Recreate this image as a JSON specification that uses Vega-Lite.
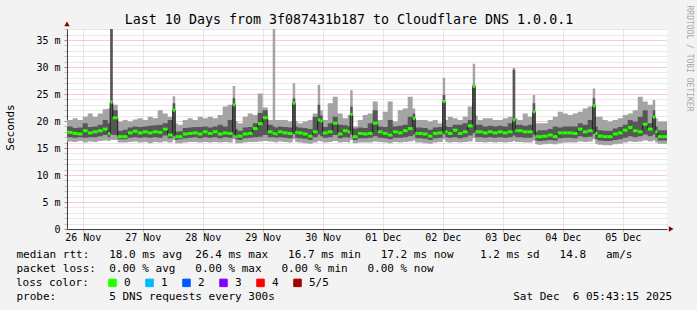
{
  "$schema": "https://vega.github.io/schema/vega-lite/v6.json",
  "width": 600,
  "height": 200,
  "autosize": "none",
  "padding": {"left": 67, "top": 29, "right": 30, "bottom": 81},
  "background": "#f3f3f3",
  "config": {"view": {"fill": "#ffffff", "stroke": null}, "font": "DejaVu Sans Mono"},
  "title": {"text": "Last 10 Days from 3f087431b187 to Cloudflare DNS 1.0.0.1", "font": "DejaVu Sans Mono", "fontSize": 13.3, "fontWeight": "normal", "color": "#000000", "anchor": "middle", "frame": "group", "dx": -18, "dy": 37, "offset": 5, "baseline": "alphabetic"},
  "data": {"values": [
    {"t":4,"t2":6,"lo":16.2,"q1":17.0,"m":17.9,"q3":19.0,"hi":20.2},
    {"t":6,"t2":8,"lo":16.2,"q1":17.0,"m":17.9,"q3":19.0,"hi":20.2},
    {"t":8,"t2":10,"lo":16.1,"q1":16.9,"m":17.7,"q3":18.7,"hi":20.5},
    {"t":10,"t2":12,"lo":16.3,"q1":17.0,"m":17.6,"q3":18.8,"hi":20.2},
    {"t":12,"t2":14,"lo":16.0,"q1":16.9,"m":18.2,"q3":19.6,"hi":20.8},
    {"t":14,"t2":16,"lo":16.2,"q1":17.0,"m":17.8,"q3":18.9,"hi":21.4},
    {"t":16,"t2":18,"lo":16.1,"q1":17.0,"m":18.0,"q3":19.0,"hi":20.8},
    {"t":18,"t2":20,"lo":16.3,"q1":17.2,"m":18.2,"q3":19.3,"hi":21.4},
    {"t":20,"t2":22,"lo":16.4,"q1":17.4,"m":18.5,"q3":20.2,"hi":22.2},
    {"t":22,"t2":23,"lo":16.3,"q1":17.0,"m":17.7,"q3":19.6,"hi":22.3},
    {"t":23,"t2":24,"lo":16.5,"q1":17.5,"m":23.5,"q3":40,"hi":40},
    {"t":24,"t2":26,"lo":16.5,"q1":17.4,"m":20.6,"q3":22.0,"hi":23.0},
    {"t":26,"t2":28,"lo":16.0,"q1":16.6,"m":17.1,"q3":18.2,"hi":19.9},
    {"t":28,"t2":30,"lo":16.0,"q1":16.6,"m":17.1,"q3":18.4,"hi":20.2},
    {"t":30,"t2":32,"lo":16.1,"q1":16.9,"m":17.8,"q3":18.8,"hi":19.9},
    {"t":32,"t2":34,"lo":16.2,"q1":17.0,"m":18.1,"q3":19.0,"hi":20.3},
    {"t":34,"t2":36,"lo":16.0,"q1":16.9,"m":17.8,"q3":18.9,"hi":20.5},
    {"t":36,"t2":38,"lo":16.1,"q1":17.0,"m":18.0,"q3":19.0,"hi":20.2},
    {"t":38,"t2":40,"lo":15.9,"q1":16.9,"m":17.8,"q3":19.1,"hi":20.8},
    {"t":40,"t2":42,"lo":16.1,"q1":17.0,"m":18.0,"q3":19.2,"hi":20.5},
    {"t":42,"t2":44,"lo":16.0,"q1":16.9,"m":17.9,"q3":19.3,"hi":22.0},
    {"t":44,"t2":46,"lo":16.2,"q1":17.3,"m":18.5,"q3":19.6,"hi":21.4},
    {"t":46,"t2":48,"lo":16.0,"q1":16.8,"m":17.4,"q3":20.2,"hi":20.8},
    {"t":48,"t2":49,"lo":16.5,"q1":17.2,"m":22.0,"q3":23.3,"hi":24.6},
    {"t":49,"t2":50,"lo":15.9,"q1":16.5,"m":17.1,"q3":18.0,"hi":19.6},
    {"t":50,"t2":52,"lo":15.9,"q1":16.6,"m":17.1,"q3":18.1,"hi":19.3},
    {"t":52,"t2":54,"lo":16.0,"q1":16.8,"m":17.6,"q3":18.7,"hi":20.2},
    {"t":54,"t2":56,"lo":16.1,"q1":16.9,"m":17.7,"q3":18.8,"hi":20.5},
    {"t":56,"t2":58,"lo":16.1,"q1":17.0,"m":17.8,"q3":18.9,"hi":20.2},
    {"t":58,"t2":60,"lo":16.0,"q1":16.8,"m":17.6,"q3":18.9,"hi":20.8},
    {"t":60,"t2":62,"lo":16.1,"q1":17.0,"m":18.0,"q3":19.0,"hi":20.5},
    {"t":62,"t2":64,"lo":16.0,"q1":16.9,"m":17.7,"q3":18.8,"hi":20.8},
    {"t":64,"t2":66,"lo":16.1,"q1":17.0,"m":18.0,"q3":19.0,"hi":20.5},
    {"t":66,"t2":68,"lo":16.0,"q1":16.8,"m":17.6,"q3":19.3,"hi":21.1},
    {"t":68,"t2":70,"lo":16.1,"q1":17.0,"m":17.8,"q3":19.0,"hi":22.7},
    {"t":70,"t2":72,"lo":16.0,"q1":16.9,"m":17.7,"q3":20.2,"hi":23.0},
    {"t":72,"t2":73,"lo":16.6,"q1":17.5,"m":23.0,"q3":24.2,"hi":26.5},
    {"t":73,"t2":74,"lo":15.9,"q1":16.6,"m":17.1,"q3":18.5,"hi":20.0},
    {"t":74,"t2":76,"lo":15.9,"q1":16.5,"m":17.2,"q3":18.2,"hi":19.6},
    {"t":76,"t2":78,"lo":16.0,"q1":16.8,"m":17.6,"q3":18.8,"hi":20.8},
    {"t":78,"t2":80,"lo":16.1,"q1":16.9,"m":17.7,"q3":18.9,"hi":21.4},
    {"t":80,"t2":82,"lo":16.1,"q1":17.0,"m":18.6,"q3":19.6,"hi":21.1},
    {"t":82,"t2":84,"lo":16.2,"q1":17.1,"m":19.5,"q3":21.5,"hi":25.1},
    {"t":84,"t2":86,"lo":16.3,"q1":17.4,"m":20.6,"q3":22.0,"hi":22.5},
    {"t":86,"t2":88,"lo":16.2,"q1":17.0,"m":18.0,"q3":19.3,"hi":20.2},
    {"t":88,"t2":89,"lo":16.1,"q1":17.0,"m":17.7,"q3":19.0,"hi":40},
    {"t":89,"t2":90,"lo":16.0,"q1":16.9,"m":17.6,"q3":18.8,"hi":20.2},
    {"t":90,"t2":92,"lo":16.2,"q1":17.0,"m":18.0,"q3":19.0,"hi":20.2},
    {"t":92,"t2":94,"lo":16.1,"q1":16.9,"m":17.8,"q3":18.9,"hi":20.2},
    {"t":94,"t2":96,"lo":16.0,"q1":16.8,"m":17.7,"q3":18.8,"hi":19.9},
    {"t":96,"t2":97,"lo":16.6,"q1":17.6,"m":23.3,"q3":24.2,"hi":27.0},
    {"t":97,"t2":98,"lo":16.1,"q1":16.9,"m":17.9,"q3":19.0,"hi":20.0},
    {"t":98,"t2":100,"lo":16.0,"q1":16.8,"m":17.8,"q3":18.8,"hi":19.6},
    {"t":100,"t2":102,"lo":15.9,"q1":16.7,"m":17.6,"q3":18.7,"hi":19.9},
    {"t":102,"t2":104,"lo":15.8,"q1":16.5,"m":17.2,"q3":18.5,"hi":20.2},
    {"t":104,"t2":106,"lo":16.0,"q1":17.0,"m":18.0,"q3":20.8,"hi":21.4},
    {"t":106,"t2":107,"lo":16.3,"q1":17.5,"m":20.2,"q3":23.0,"hi":26.7},
    {"t":107,"t2":108,"lo":16.2,"q1":17.2,"m":20.0,"q3":21.0,"hi":22.0},
    {"t":108,"t2":110,"lo":16.0,"q1":16.9,"m":17.8,"q3":18.9,"hi":20.2},
    {"t":110,"t2":112,"lo":16.1,"q1":17.0,"m":18.0,"q3":19.6,"hi":23.3},
    {"t":112,"t2":114,"lo":16.3,"q1":17.4,"m":19.6,"q3":20.8,"hi":24.5},
    {"t":114,"t2":116,"lo":16.0,"q1":16.8,"m":17.6,"q3":19.3,"hi":21.4},
    {"t":116,"t2":118,"lo":16.1,"q1":17.0,"m":18.2,"q3":19.2,"hi":20.5},
    {"t":118,"t2":119,"lo":16.0,"q1":16.9,"m":18.0,"q3":19.0,"hi":21.1},
    {"t":119,"t2":120,"lo":16.5,"q1":17.5,"m":21.2,"q3":22.7,"hi":25.7},
    {"t":120,"t2":122,"lo":15.9,"q1":16.5,"m":17.1,"q3":18.6,"hi":19.0},
    {"t":122,"t2":124,"lo":16.0,"q1":16.8,"m":17.7,"q3":18.8,"hi":20.2},
    {"t":124,"t2":126,"lo":16.0,"q1":16.8,"m":17.6,"q3":18.7,"hi":21.1},
    {"t":126,"t2":128,"lo":16.0,"q1":16.9,"m":17.7,"q3":19.6,"hi":21.4},
    {"t":128,"t2":130,"lo":16.2,"q1":17.2,"m":19.6,"q3":22.0,"hi":23.6},
    {"t":130,"t2":132,"lo":16.1,"q1":16.9,"m":18.0,"q3":19.0,"hi":20.2},
    {"t":132,"t2":134,"lo":16.0,"q1":16.8,"m":17.7,"q3":18.9,"hi":21.7},
    {"t":134,"t2":136,"lo":15.9,"q1":16.6,"m":17.4,"q3":20.2,"hi":23.6},
    {"t":136,"t2":138,"lo":16.1,"q1":16.9,"m":18.0,"q3":19.0,"hi":19.9},
    {"t":138,"t2":140,"lo":16.0,"q1":16.9,"m":17.8,"q3":19.1,"hi":22.0},
    {"t":140,"t2":142,"lo":16.1,"q1":17.0,"m":18.2,"q3":19.3,"hi":22.3},
    {"t":142,"t2":144,"lo":16.2,"q1":17.2,"m":18.6,"q3":20.8,"hi":24.5},
    {"t":144,"t2":145,"lo":16.4,"q1":17.5,"m":20.5,"q3":21.4,"hi":22.3},
    {"t":145,"t2":146,"lo":16.0,"q1":16.8,"m":17.7,"q3":18.8,"hi":20.2},
    {"t":146,"t2":148,"lo":16.0,"q1":16.8,"m":17.7,"q3":18.8,"hi":20.2},
    {"t":148,"t2":150,"lo":15.9,"q1":16.7,"m":17.6,"q3":18.7,"hi":20.2},
    {"t":150,"t2":152,"lo":15.8,"q1":16.5,"m":17.2,"q3":18.4,"hi":19.9},
    {"t":152,"t2":154,"lo":16.0,"q1":16.8,"m":17.7,"q3":18.8,"hi":20.2},
    {"t":154,"t2":156,"lo":16.1,"q1":16.9,"m":17.8,"q3":18.9,"hi":19.6},
    {"t":156,"t2":157,"lo":16.6,"q1":17.6,"m":23.6,"q3":24.8,"hi":28.0},
    {"t":157,"t2":158,"lo":16.1,"q1":17.0,"m":18.0,"q3":19.0,"hi":20.2},
    {"t":158,"t2":160,"lo":16.0,"q1":16.9,"m":17.7,"q3":18.9,"hi":20.8},
    {"t":160,"t2":162,"lo":16.1,"q1":17.0,"m":18.3,"q3":19.3,"hi":20.5},
    {"t":162,"t2":164,"lo":16.0,"q1":16.8,"m":17.7,"q3":19.3,"hi":20.2},
    {"t":164,"t2":166,"lo":16.1,"q1":17.0,"m":18.0,"q3":19.6,"hi":20.8},
    {"t":166,"t2":168,"lo":16.2,"q1":17.3,"m":19.1,"q3":20.2,"hi":22.7},
    {"t":168,"t2":169,"lo":16.8,"q1":17.8,"m":26.4,"q3":26.7,"hi":30.6},
    {"t":169,"t2":170,"lo":16.1,"q1":17.0,"m":18.0,"q3":19.3,"hi":21.0},
    {"t":170,"t2":172,"lo":16.1,"q1":17.0,"m":18.0,"q3":19.3,"hi":20.2},
    {"t":172,"t2":174,"lo":16.0,"q1":16.9,"m":17.8,"q3":19.0,"hi":20.5},
    {"t":174,"t2":176,"lo":16.1,"q1":17.0,"m":18.0,"q3":19.1,"hi":20.5},
    {"t":176,"t2":178,"lo":16.0,"q1":16.9,"m":17.8,"q3":19.0,"hi":20.2},
    {"t":178,"t2":180,"lo":16.1,"q1":17.0,"m":18.0,"q3":19.1,"hi":20.2},
    {"t":180,"t2":182,"lo":16.0,"q1":16.9,"m":17.8,"q3":19.0,"hi":20.5},
    {"t":182,"t2":184,"lo":16.1,"q1":17.0,"m":18.0,"q3":19.6,"hi":20.8},
    {"t":184,"t2":185,"lo":16.3,"q1":17.3,"m":20.2,"q3":29.5,"hi":29.8},
    {"t":185,"t2":186,"lo":16.1,"q1":17.0,"m":18.2,"q3":19.3,"hi":20.5},
    {"t":186,"t2":188,"lo":16.1,"q1":17.0,"m":18.2,"q3":19.3,"hi":20.2},
    {"t":188,"t2":190,"lo":16.0,"q1":16.9,"m":18.0,"q3":19.1,"hi":21.4},
    {"t":190,"t2":192,"lo":16.0,"q1":16.9,"m":18.0,"q3":19.3,"hi":20.8},
    {"t":192,"t2":193,"lo":16.4,"q1":17.5,"m":21.7,"q3":23.3,"hi":24.8},
    {"t":193,"t2":194,"lo":15.7,"q1":16.4,"m":17.1,"q3":18.0,"hi":19.6},
    {"t":194,"t2":196,"lo":15.6,"q1":16.3,"m":17.1,"q3":18.3,"hi":19.6},
    {"t":196,"t2":198,"lo":15.7,"q1":16.4,"m":17.2,"q3":18.3,"hi":19.6},
    {"t":198,"t2":200,"lo":15.8,"q1":16.5,"m":17.4,"q3":18.5,"hi":20.2},
    {"t":200,"t2":202,"lo":15.7,"q1":16.4,"m":17.1,"q3":19.0,"hi":20.8},
    {"t":202,"t2":204,"lo":15.9,"q1":16.8,"m":17.8,"q3":18.8,"hi":21.7},
    {"t":204,"t2":206,"lo":16.0,"q1":16.9,"m":17.8,"q3":19.0,"hi":21.4},
    {"t":206,"t2":208,"lo":16.0,"q1":16.9,"m":17.8,"q3":19.0,"hi":21.1},
    {"t":208,"t2":210,"lo":16.0,"q1":16.8,"m":17.7,"q3":19.0,"hi":21.4},
    {"t":210,"t2":212,"lo":16.2,"q1":17.2,"m":18.5,"q3":19.6,"hi":21.7},
    {"t":212,"t2":214,"lo":16.1,"q1":17.0,"m":18.0,"q3":19.3,"hi":22.3},
    {"t":214,"t2":216,"lo":16.2,"q1":17.1,"m":18.2,"q3":20.2,"hi":22.7},
    {"t":216,"t2":217,"lo":16.6,"q1":17.6,"m":22.8,"q3":24.2,"hi":26.0},
    {"t":217,"t2":218,"lo":15.8,"q1":16.6,"m":17.7,"q3":19.0,"hi":20.8},
    {"t":218,"t2":220,"lo":15.6,"q1":16.4,"m":17.2,"q3":18.3,"hi":20.8},
    {"t":220,"t2":222,"lo":15.5,"q1":16.3,"m":17.1,"q3":18.2,"hi":20.2},
    {"t":222,"t2":224,"lo":15.5,"q1":16.3,"m":17.1,"q3":18.2,"hi":19.9},
    {"t":224,"t2":226,"lo":15.7,"q1":16.5,"m":17.6,"q3":18.6,"hi":20.2},
    {"t":226,"t2":228,"lo":15.8,"q1":16.6,"m":17.8,"q3":18.9,"hi":20.5},
    {"t":228,"t2":230,"lo":16.0,"q1":16.9,"m":18.3,"q3":19.3,"hi":21.1},
    {"t":230,"t2":232,"lo":16.2,"q1":17.2,"m":18.8,"q3":20.2,"hi":21.4},
    {"t":232,"t2":234,"lo":16.1,"q1":17.0,"m":18.2,"q3":19.9,"hi":22.0},
    {"t":234,"t2":236,"lo":16.2,"q1":17.2,"m":18.0,"q3":20.8,"hi":24.5},
    {"t":236,"t2":238,"lo":16.4,"q1":17.5,"m":19.4,"q3":22.0,"hi":23.6},
    {"t":238,"t2":240,"lo":16.2,"q1":17.2,"m":18.5,"q3":19.6,"hi":23.0},
    {"t":240,"t2":241,"lo":16.4,"q1":17.5,"m":20.7,"q3":22.0,"hi":23.9},
    {"t":241,"t2":242,"lo":16.0,"q1":16.9,"m":18.0,"q3":19.0,"hi":20.5},
    {"t":242,"t2":244,"lo":15.8,"q1":16.4,"m":17.1,"q3":18.3,"hi":19.9},
    {"t":244,"t2":246,"lo":15.8,"q1":16.4,"m":17.1,"q3":18.3,"hi":19.9},
    {"t":246,"t2":248,"lo":15.8,"q1":16.4,"m":17.1,"q3":18.3,"hi":19.9}
  ]},
  "resolve": {"axis": {"y": "independent"}},
  "layer": [
    {
      "mark": {"type": "area", "interpolate": "step-after", "color": "#a4a4a4", "clip": true},
      "encoding": {
        "x": {"field": "t", "type": "quantitative", "scale": {"domain": [5.72, 245.72], "nice": false, "zero": false},
          "axis": {
            "values": [12,18,24,30,36,42,48,54,60,66,72,78,84,90,96,102,108,114,120,126,132,138,144,150,156,162,168,174,180,186,192,198,204,210,216,222,228,234,240],
            "labelExpr": "datum.value % 24 == 12 ? ['26 Nov','27 Nov','28 Nov','29 Nov','30 Nov','01 Dec','02 Dec','03 Dec','04 Dec','05 Dec'][floor(datum.value / 24)] : ''",
            "labelFont": "DejaVu Sans Mono", "labelFontSize": 10, "labelColor": "#000000", "labelPadding": 0, "labelOverlap": false, "labelFlush": false, "labelBaseline": "top",
            "grid": true, "gridDash": [1, 1], "gridWidth": 1,
            "gridColor": {"condition": {"test": "datum.value % 24 == 0", "value": "#f09a9a"}, "value": "#d0d0d0"},
            "tickColor": {"condition": {"test": "datum.value % 24 == 0", "value": "#e07070"}, "value": "#c0c0c0"},
            "tickSize": 3, "domainColor": "#404040", "domainWidth": 1,
            "title": [
              "median rtt:\u00a0\u00a0\u00a018.0 ms avg\u00a0\u00a026.4 ms max\u00a0\u00a0\u00a016.7 ms min\u00a0\u00a0\u00a017.2 ms now\u00a0\u00a0\u00a0\u00a01.2 ms sd\u00a0\u00a0\u00a014.8\u00a0\u00a0\u00a0am/s",
              "packet loss:\u00a0\u00a00.00 % avg\u00a0\u00a0\u00a00.00 % max\u00a0\u00a0\u00a00.00 % min\u00a0\u00a0\u00a00.00 % now",
              "\u200b",
              "probe:\u00a0\u00a0\u00a0\u00a0\u00a0\u00a0\u00a0\u00a05 DNS requests every 300s\u00a0\u00a0\u00a0\u00a0\u00a0\u00a0\u00a0\u00a0\u00a0\u00a0\u00a0\u00a0\u00a0\u00a0\u00a0\u00a0\u00a0\u00a0\u00a0\u00a0\u00a0\u00a0\u00a0\u00a0\u00a0\u00a0\u00a0\u00a0\u00a0\u00a0\u00a0\u00a0\u00a0\u00a0\u00a0\u00a0Sat Dec\u00a0\u00a06 05:43:15 2025"
            ],
            "titleFont": "DejaVu Sans Mono", "titleFontSize": 11, "titleFontWeight": "normal", "titleColor": "#000000",
            "titleAlign": "left", "titleAnchor": "start", "titleBaseline": "top", "titleX": -51, "titleY": 19, "titleLineHeight": 14
          }},
        "y": {"field": "hi", "type": "quantitative", "scale": {"domain": [0, 37.04], "nice": false, "zero": false},
          "axis": {
            "orient": "left",
            "values": [0,1,2,3,4,5,6,7,8,9,10,11,12,13,14,15,16,17,18,19,20,21,22,23,24,25,26,27,28,29,30,31,32,33,34,35,36,37],
            "labelExpr": "datum.value == 0 ? '0' : (datum.value % 5 == 0 ? datum.value + ' m' : '')",
            "labelFont": "DejaVu Sans Mono", "labelFontSize": 10, "labelColor": "#000000", "labelPadding": 4, "labelOverlap": false, "labelFlush": false, "labelBaseline": "middle",
            "grid": true, "gridDash": [1, 1], "gridWidth": 1,
            "gridColor": {"condition": {"test": "datum.value % 5 == 0", "value": "#f09a9a"}, "value": "#d0d0d0"},
            "tickColor": {"condition": {"test": "datum.value % 5 == 0", "value": "#e07070"}, "value": "#c0c0c0"},
            "tickSize": 3, "domainColor": "#404040", "domainWidth": 1,
            "title": "Seconds", "titleFont": "DejaVu Sans Mono", "titleFontSize": 11, "titleFontWeight": "normal", "titleColor": "#000000",
            "titleAngle": -90, "titleAlign": "center", "titleBaseline": "middle", "titleX": -57, "titleY": 98
          }},
        "y2": {"field": "lo"}
      }
    },
    {
      "mark": {"type": "area", "interpolate": "step-after", "color": "#575757", "clip": true},
      "encoding": {
        "x": {"field": "t", "type": "quantitative", "scale": {"domain": [5.72, 245.72], "nice": false, "zero": false}},
        "y": {"field": "q3", "type": "quantitative", "scale": {"domain": [0, 37.04], "nice": false, "zero": false}, "axis": null},
        "y2": {"field": "q1"}
      }
    },
    {
      "mark": {"type": "line", "interpolate": "step-after", "color": "#1a1a1a", "strokeWidth": 1, "clip": true},
      "encoding": {
        "x": {"field": "t", "type": "quantitative", "scale": {"domain": [5.72, 245.72], "nice": false, "zero": false}},
        "y": {"field": "m", "type": "quantitative", "scale": {"domain": [0, 37.04], "nice": false, "zero": false}, "axis": null}
      }
    },
    {
      "mark": {"type": "rule", "strokeWidth": 3, "strokeCap": "butt", "clip": true, "opacity": 1},
      "encoding": {
        "x": {"field": "t", "type": "quantitative", "scale": {"domain": [5.72, 245.72], "nice": false, "zero": false}},
        "x2": {"field": "t2"},
        "y": {"field": "m", "type": "quantitative", "scale": {"domain": [0, 37.04], "nice": false, "zero": false}, "axis": null},
        "color": {"datum": "0", "type": "nominal",
          "scale": {"domain": ["0", "1", "2", "3", "4", "5/5"], "range": ["#26ff00", "#00b8ff", "#0059ff", "#7e00ff", "#ff0000", "#a10000"]},
          "legend": {
            "orient": "none", "legendX": -51, "legendY": 248, "direction": "horizontal", "padding": 0,
            "title": "loss color:", "titleOrient": "left", "titleFont": "DejaVu Sans Mono", "titleFontSize": 11, "titleFontWeight": "normal", "titleColor": "#000000", "titlePadding": 18, "titleBaseline": "middle",
            "symbolType": "square", "symbolSize": 56, "symbolStrokeWidth": 1, "symbolStrokeColor": "#000000", "symbolOpacity": 1,
            "labelFont": "DejaVu Sans Mono", "labelFontSize": 11, "labelColor": "#000000", "labelOffset": 6, "columnPadding": 12,
            "encode": {"symbols": {"update": {"fill": {"scale": "color", "field": "value"}, "stroke": {"value": "#000000"}, "strokeWidth": {"value": 1}, "opacity": {"value": 1}}}}
          }}
      }
    },
    {
      "data": {"values": [{"ax": 247.4, "ay": 0}]},
      "mark": {"type": "point", "shape": "triangle-right", "filled": true, "color": "#7f0000", "size": 30, "opacity": 1},
      "encoding": {
        "x": {"field": "ax", "type": "quantitative", "scale": {"domain": [5.72, 245.72], "nice": false, "zero": false}},
        "y": {"field": "ay", "type": "quantitative", "scale": {"domain": [0, 37.04], "nice": false, "zero": false},
          "axis": {"orient": "right", "domain": false, "ticks": false, "labels": false, "grid": false,
            "title": "RRDTOOL / TOBI OETIKER", "titleFont": "DejaVu Sans Mono", "titleFontSize": 8, "titleFontWeight": "normal", "titleColor": "#a8a8a8",
            "titleAngle": 90, "titleAlign": "left", "titleBaseline": "middle", "titleX": 21, "titleY": -24}}
      }
    },
    {
      "data": {"values": [{"ax": 5.72, "ay": 38.0}]},
      "mark": {"type": "point", "shape": "triangle-up", "filled": true, "color": "#7f0000", "size": 30, "opacity": 1},
      "encoding": {
        "x": {"field": "ax", "type": "quantitative", "scale": {"domain": [5.72, 245.72], "nice": false, "zero": false}},
        "y": {"field": "ay", "type": "quantitative", "scale": {"domain": [0, 37.04], "nice": false, "zero": false}, "axis": null}
      }
    }
  ]
}
